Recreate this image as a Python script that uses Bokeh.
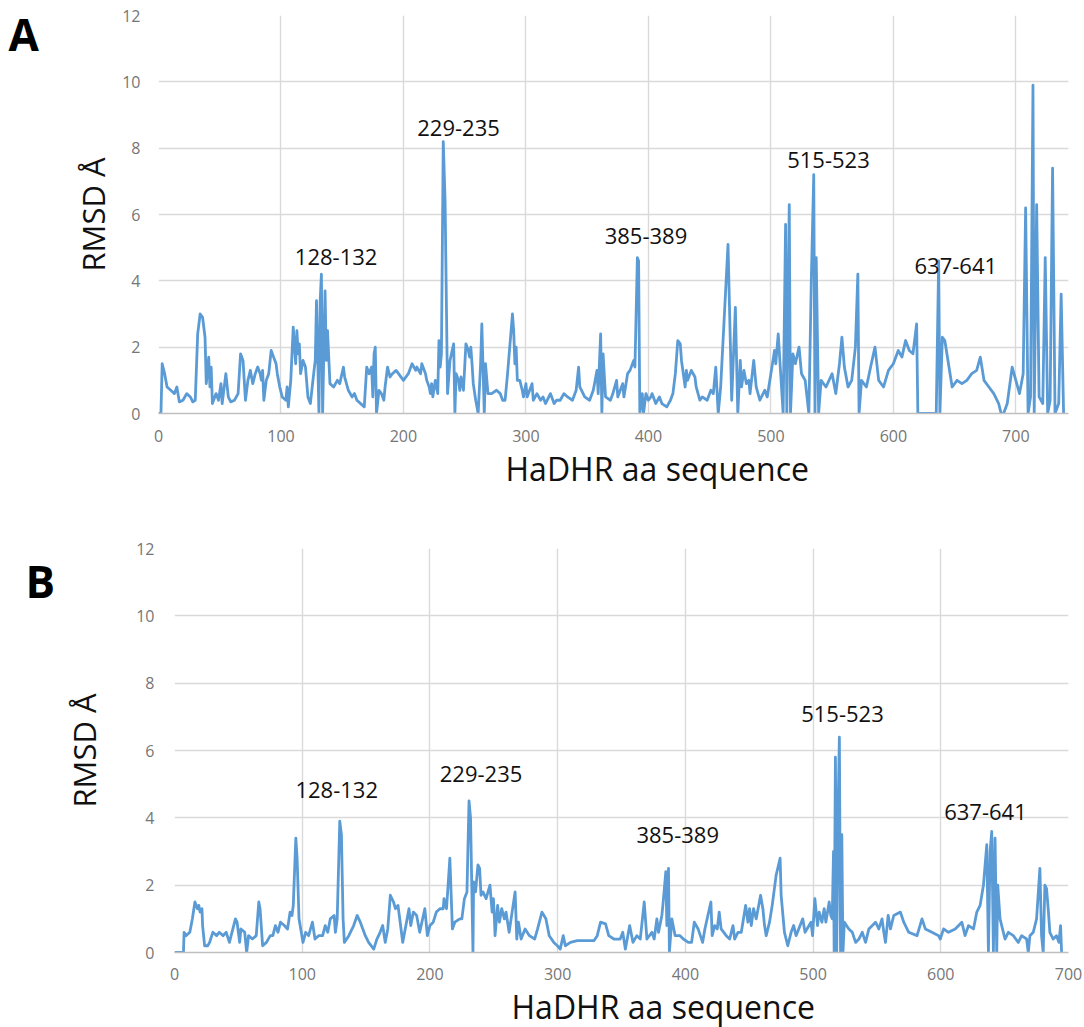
from bokeh.plotting import figure
from bokeh.layouts import column, row
from bokeh.models import Range1d, FixedTicker, Label, Title
from bokeh.core.properties import value
from bokeh.embed import file_html
from bokeh.resources import INLINE

# ---------------- data ----------------
# Panel A: residue index, RMSD (Å)
a_res = [0, 2, 3, 5, 7, 10, 13, 15, 17, 20, 23, 26, 28, 30, 32, 34, 36, 38, 39, 41, 42, 43, 44, 47, 49, 51, 52, 55, 57, 59,
         62, 65, 67, 69, 71, 73, 75, 77, 79, 81, 83, 84, 85, 86, 88, 90, 92, 94, 96, 97, 99, 101, 104, 105, 106, 108, 110, 112, 113, 114,
         115, 116, 118, 120, 122, 124, 127, 128, 129, 131, 132, 133, 134, 136, 137, 138, 140, 143, 146, 148, 151, 152, 155, 158, 160, 162, 168, 170, 172, 174,
         175, 176, 177, 178, 180, 182, 184, 185, 187, 189, 191, 194, 200, 204, 207, 210, 211, 214, 215, 218, 219, 221, 222, 223, 224, 226, 228, 229, 230, 231,
         232.5, 234, 236, 238, 241, 242, 243, 245, 246, 247, 249, 251, 253, 254, 255, 256, 257, 259, 261, 263, 264, 266, 267, 269, 272, 276, 279, 281, 283, 285,
         289, 290, 291, 292, 293, 295, 297, 298, 300, 301, 305, 306, 309, 312, 314, 316, 320, 323, 325, 328, 331, 334, 338, 341, 343, 344, 348, 352, 355, 358,
         359, 361, 362, 363, 365, 369, 371, 374, 375, 379, 380, 383, 385, 388, 389, 391, 392, 393, 395, 396, 398, 400, 402, 403, 406, 409, 411, 415, 418, 420,
         422, 424, 426, 427, 430, 431, 432, 435, 438, 439, 442, 444, 448, 451, 453, 455, 457, 459, 465, 468, 471, 473, 475, 476, 478, 480, 482, 483, 486, 488,
         491, 495, 497, 500, 503, 504, 506, 508, 510, 512, 513, 515, 516, 518, 520, 523, 525, 528, 531, 533, 535, 536, 537, 539, 541, 545, 550, 553, 556, 558,
         560, 563, 566, 569, 571, 572, 574, 578, 582, 585, 588, 592, 596, 600, 604, 607, 610, 613, 616, 619, 620, 635, 637, 638, 640, 642, 645, 648, 652, 656,
         660, 664, 668, 671, 674, 678, 682, 686, 688, 690, 693, 697, 700, 703, 706, 708, 710, 712, 714, 715, 717, 719, 722, 724, 726, 728, 730, 732, 735, 737,
         739]
a_rmsd = [0, 0, 1.5, 1.2, 0.8, 0.7, 0.6, 0.8, 0.35, 0.4, 0.6, 0.5, 0.35, 0.4, 2.4, 3.0, 2.9, 2.3, 0.9, 1.7, 0.8, 1.4, 0.3, 0.6, 0.4, 0.9, 0.3, 1.2, 0.5, 0.35,
          0.4, 0.6, 1.8, 1.6, 0.4, 1.0, 1.3, 0.9, 1.2, 1.4, 1.2, 1.0, 1.3, 0.4, 1.0, 1.2, 1.9, 1.7, 1.5, 1.2, 0.8, 0.5, 0.4, 0.8, 0.2, 1.0, 2.6, 1.5, 2.5, 1.8,
          2.1, 1.2, 1.6, 1.4, 0.5, 0.3, 1.3, 1.6, 3.4, 0, 3.4, 4.2, 0, 3.7, 1.6, 2.5, 0.9, 0.8, 1.0, 0.9, 1.4, 1.1, 0.7, 0.5, 0.6, 0.4, 0.2, 1.4, 1.2, 1.4,
          0.5, 1.8, 2.0, 0, 0.7, 0.6, 0.4, 0.8, 1.4, 1.1, 1.2, 1.3, 1.0, 1.2, 1.5, 1.3, 1.4, 1.2, 1.5, 1.2, 1.0, 0.8, 0.6, 0.9, 0.5, 1.0, 0.6, 2.2, 1.4, 1.8,
          8.2, 6.4, 0.6, 1.6, 2.1, 0, 1.2, 1.0, 0.7, 1.1, 0.7, 2.1, 1.9, 1.7, 2.0, 1.5, 0.9, 0.4, 0, 1.5, 2.7, 0, 1.5, 0.6, 0.6, 0.7, 0.6, 0.4, 0.4, 1.2,
          3.0, 2.5, 1.5, 2.0, 1.0, 1.0, 0.7, 0.5, 0.9, 0.5, 0.9, 0.4, 0.6, 0.4, 0.5, 0.3, 0.6, 0.3, 0.4, 0.4, 0.6, 0.5, 0.4, 0.7, 1.4, 0.8, 0.5, 0.4, 0.7, 1.3,
          0.6, 2.4, 0, 1.8, 0.5, 0.4, 0.6, 1.0, 0.5, 0.9, 0.5, 1.2, 1.3, 1.6, 1.4, 4.7, 4.6, 0, 0.6, 0, 0.6, 0.4, 0.5, 0.6, 0.3, 0.5, 0.3, 0.2, 0.4, 0.6,
          1.2, 2.2, 2.1, 1.6, 0.8, 1.3, 1.0, 1.3, 1.1, 0.8, 0.4, 0.5, 0.4, 0.7, 0.6, 1.4, 0, 0.8, 5.1, 0.4, 3.2, 0, 1.6, 0.8, 1.3, 0.9, 1.0, 0.6, 1.6, 0.8,
          0.4, 0.7, 0.5, 1.2, 1.9, 1.5, 2.4, 1.2, 0, 5.7, 0, 6.3, 0, 1.8, 1.5, 2.0, 1.2, 1.0, 0, 4.0, 7.2, 0, 4.7, 0, 1.0, 0.8, 1.2, 0.6, 1.5, 2.3,
          1.4, 0.8, 1.0, 2.0, 4.2, 0, 1.0, 0.8, 1.5, 2.0, 1.0, 0.8, 1.3, 1.5, 1.9, 1.7, 2.2, 1.9, 1.8, 2.7, 0, 0, 4.6, 0, 2.3, 2.2, 1.5, 0.8, 1.0, 0.9,
          1.0, 1.2, 1.3, 1.7, 1.0, 0.8, 0.6, 0.3, 0, 0, 0.3, 1.4, 1.0, 0.6, 1.2, 6.2, 0, 0.5, 9.9, 0, 6.3, 0.5, 0.3, 4.7, 0, 0.4, 7.4, 0, 0.3, 3.6,
          0]

# Panel B: residue index, RMSD (Å)
b_res = [0, 7, 7.5, 9, 12, 14, 16, 18, 19, 20, 21.5, 22, 23.6, 26, 27.5, 30, 33, 35, 38, 40.5, 43, 47.7, 49, 51, 52, 55, 56.5, 58, 61, 64,
         66, 67, 69, 72, 75, 77, 79, 81, 83, 86, 88.5, 90.5, 92, 93, 95, 96, 97.5, 100.6, 102.7, 105, 108, 110, 113, 116, 118, 120, 122, 125, 126, 127.4,
         129.4, 130.7, 132, 133, 136.5, 140.3, 143, 145.5, 149.4, 152, 156, 158.5, 161, 163, 165, 167, 169, 171.5, 173, 175, 176.7, 178.7, 183.6, 185, 187, 189.6, 192, 196, 198, 200,
         202.6, 205, 207.8, 210.4, 211, 213, 215.6, 217.6, 219.5, 223.4, 225, 227, 229, 230.6, 231.8, 233.7, 234.2, 235.7, 237.6, 238.9, 240, 241.5, 244, 247, 248.7, 249.7, 250.5, 251, 253, 254.4,
         256.2, 258.3, 259.6, 262, 266.7, 268, 269.3, 271.4, 274.5, 277.9, 282, 284.3, 287.7, 290.8, 293.4, 297, 299.8, 302, 304.4, 306, 310, 315.4, 320.6, 328.4, 331, 333.6, 337.5, 340, 344, 349,
         351, 353, 356.4, 359, 362, 364.7, 367.8, 369.9, 373.8, 375.6, 377.7, 379, 381.6, 382.4, 384.7, 385.5, 386.8, 387.5, 389.4, 392, 395.8, 398.4, 402.3, 404.9, 407, 410, 413.5, 415.3, 420, 421,
         423, 425, 426.5, 428, 432, 434.7, 437.3, 438.6, 441.2, 443.8, 447.2, 449, 450.3, 451.6, 453.4, 455.5, 458.9, 460.7, 462, 463.3, 465.9, 468, 471.1, 474.2, 475, 477.6, 480.2, 482.8, 484.8, 486.7,
         491.9, 493.7, 498.4, 499.6, 501.4, 503.5, 504.8, 506.9, 508.7, 510, 512.6, 513.9, 515, 516, 516.5, 517.5, 518.5, 519.5, 520.6, 521.5, 522.5, 523.4, 524.5, 528, 530.7, 533.3, 535.9, 538.5, 541.1, 543.7,
         548.9, 551.5, 554, 555.4, 556.7, 558.8, 560.6, 563.2, 568.4, 571, 574.9, 581.4, 585.3, 587.9, 593.1, 598.3, 599.6, 602.2, 606, 611.3, 616.5, 619, 621.7, 625.6, 628.2, 630.8, 633.4, 636, 637.3, 638.6,
         639.9, 641.2, 642.5, 643.8, 644.6, 646.4, 650.3, 652.9, 656.8, 660.7, 663.3, 667.2, 668.5, 669.8, 672.4, 675, 677.6, 678.9, 680.2, 681.5, 682.8, 684.1, 685.4, 688, 690.6, 692.5, 693.8, 694.6]
b_rmsd = [0, 0, 0.6, 0.5, 0.6, 1.0, 1.5, 1.3, 1.4, 1.2, 1.3, 0.8, 0.2, 0.2, 0.3, 0.6, 0.5, 0.6, 0.5, 0.6, 0.3, 1.0, 0.9, 0.3, 0.7, 0.6, 0, 0.5, 0.4, 0.5,
          1.5, 1.3, 0.2, 0.3, 0.5, 0.5, 0.8, 0.6, 0.9, 0.8, 0.7, 1.2, 1.1, 1.4, 3.4, 2.8, 1.0, 0.3, 0.6, 0.5, 0.9, 0.4, 0.5, 0.5, 0.8, 0.6, 1.0, 1.1, 0.6, 1.0,
          3.9, 3.5, 1.0, 0.3, 0.5, 0.8, 1.1, 0.9, 0.5, 0.3, 0.1, 0.4, 0.6, 0.8, 0.3, 0.7, 1.7, 1.5, 1.3, 1.4, 0.9, 0.3, 1.3, 0.8, 1.2, 1.1, 0.6, 1.3, 0.5, 0.8,
          0.9, 1.2, 1.3, 1.3, 1.6, 1.3, 2.8, 0.7, 0.9, 1.0, 1.0, 1.6, 1.8, 4.5, 4.0, 0, 2.1, 1.8, 2.6, 2.5, 1.7, 1.8, 1.6, 2.0, 1.2, 1.6, 1.0, 0.5, 1.4, 0.9,
          1.3, 1.0, 1.2, 0.6, 1.8, 0.4, 0.9, 0.4, 0.7, 0.5, 0.4, 0.7, 1.2, 1.0, 0.5, 0.3, 0.2, 0.1, 0.5, 0.2, 0.3, 0.35, 0.35, 0.35, 0.5, 0.9, 0.85, 0.5, 0.4, 0.4,
          0.6, 0.1, 0.8, 0.3, 0.5, 0.4, 1.5, 0.4, 0.6, 0.4, 1.0, 0.6, 1.1, 1.4, 2.4, 0.8, 2.5, 0, 1.0, 0.5, 0.5, 0.4, 0.3, 0.3, 0.9, 0.7, 0.3, 0.7, 1.5, 0.5,
          0.8, 0.7, 1.2, 0.7, 0.5, 0.4, 0.8, 0.4, 0.6, 0.6, 1.4, 0.9, 1.3, 0.8, 1.3, 1.0, 1.7, 1.3, 0.8, 0.5, 0.9, 1.4, 2.3, 2.8, 1.7, 0.6, 0.2, 0.6, 0.8, 0.5,
          1.0, 0.6, 0.9, 0.5, 1.6, 0.8, 1.2, 0.9, 1.3, 0.9, 1.5, 1.1, 1.0, 3.0, 0, 5.8, 0, 4.0, 6.4, 0, 3.5, 0, 0.9, 0.7, 0.6, 0.3, 0.4, 0.6, 0.3, 0.7,
          0.9, 0.7, 1.0, 0.6, 0.3, 1.1, 0.7, 1.1, 1.2, 0.9, 0.6, 0.5, 1.0, 0.7, 0.6, 0.5, 0.4, 0.7, 0.6, 0.7, 0.9, 0.5, 0.8, 0.7, 1.2, 1.4, 2.0, 3.2, 0, 3.0,
          3.6, 0, 3.4, 0, 2.0, 1.0, 0.4, 0.6, 0.5, 0.3, 0.5, 0.4, 0, 0.5, 0.6, 1.0, 2.5, 0.5, 0, 2.0, 1.9, 1.3, 0.6, 0.4, 0.5, 0.3, 0.8, 0]

x_ticks = [0, 100, 200, 300, 400, 500, 600, 700]
y_ticks = [0, 2, 4, 6, 8, 10, 12]
regions = ["128-132", "229-235", "385-389", "515-523", "637-641"]
# label anchor positions (residue, RMSD) for the region names
a_lab_x = [145, 245, 398, 547, 651]
a_lab_y = [4.73, 8.62, 5.36, 7.63, 4.46]
b_lab_x = [127, 240, 394, 523, 635]
b_lab_y = [4.83, 5.3, 3.5, 7.09, 4.18]

LINE = "#5B9BD5"
GRID = "#D9D9D9"
FONT = "Open Sans"
SIDE = 60  # width of the small strip holding the panel letter


def letter_strip(letter, height, x0, y0):
    s = figure(frame_width=SIDE, frame_height=height, output_backend="svg", toolbar_location=None,
               x_range=Range1d(0, SIDE), y_range=Range1d(height, 0),
               x_axis_type=None, y_axis_type=None,
               min_border_left=0, min_border_right=0, min_border_top=0, min_border_bottom=0)
    s.title = None
    s.outline_line_color = None
    s.grid.visible = False
    s.text(x=[x0], y=[y0], text=[letter], text_font=value(FONT), text_font_size="44px",
           text_font_style="bold", text_color="#000000", text_align="left",
           text_baseline="alphabetic")
    return s


def make_panel(res, rmsd, xmax, height, left, top, bottom, lab_x, lab_y,
               title_offset, y_standoff, ylab_standoff, x_standoff, title_standoff):
    p = figure(width=1084 - SIDE, height=height, output_backend="svg", toolbar_location=None,
               x_range=Range1d(0, xmax), y_range=Range1d(0, 12),
               min_border_left=left - SIDE, min_border_right=16, min_border_top=top,
               min_border_bottom=bottom)
    p.outline_line_color = None
    p.line(res, rmsd, line_color=LINE, line_width=2.8, line_join="round")

    p.xaxis.ticker = FixedTicker(ticks=x_ticks)
    p.yaxis.ticker = FixedTicker(ticks=y_ticks)
    p.xgrid.ticker = FixedTicker(ticks=x_ticks)
    p.ygrid.ticker = FixedTicker(ticks=y_ticks)
    p.grid.grid_line_color = GRID
    p.grid.grid_line_width = 1.4

    for ax in (p.xaxis, p.yaxis):
        ax.major_tick_line_color = None
        ax.minor_tick_line_color = None
        ax.major_tick_out = 0
        ax.major_tick_in = 0
        ax.major_label_text_font = FONT
        ax.major_label_text_font_size = "16px"
        ax.major_label_text_color = "#767676"
    p.xaxis.axis_line_color = "#BFBFBF"
    p.xaxis.axis_line_width = 1.6
    p.yaxis.axis_line_color = None
    p.xaxis.major_label_standoff = x_standoff
    p.yaxis.major_label_standoff = y_standoff

    p.yaxis.axis_label = "RMSD Å"
    p.yaxis.axis_label_text_font = FONT
    p.yaxis.axis_label_text_font_size = "31px"
    p.yaxis.axis_label_text_font_style = "normal"
    p.yaxis.axis_label_text_color = "#111111"
    p.yaxis.axis_label_standoff = ylab_standoff

    p.add_layout(Title(text="HaDHR aa sequence", align="left", offset=title_offset,
                       text_font=FONT, text_font_size="32px", text_font_style="normal",
                       text_color="#111111", standoff=title_standoff), "below")

    for t, lx, ly in zip(regions, lab_x, lab_y):
        p.add_layout(Label(x=lx, y=ly, text=t, text_font=FONT, text_font_size="22px",
                           text_color="#111111", text_align="center", text_baseline="middle"))
    return p


pa = make_panel(a_res, a_rmsd, 743, 505, 158, 15, 92, a_lab_x, a_lab_y, 347, 18, 5, 16, 0)
pb = make_panel(b_res, b_rmsd, 700, 522, 168, 43, 74, b_lab_x, b_lab_y, 337, 20, 28, 15, 0)
sa = letter_strip("A", 505, 8, 18)
sb = letter_strip("B", 522, 25, 32)

layout = column(row(sa, pa, spacing=0), row(sb, pb, spacing=0), spacing=0)
open("out.html", "w").write(file_html(layout, INLINE))
